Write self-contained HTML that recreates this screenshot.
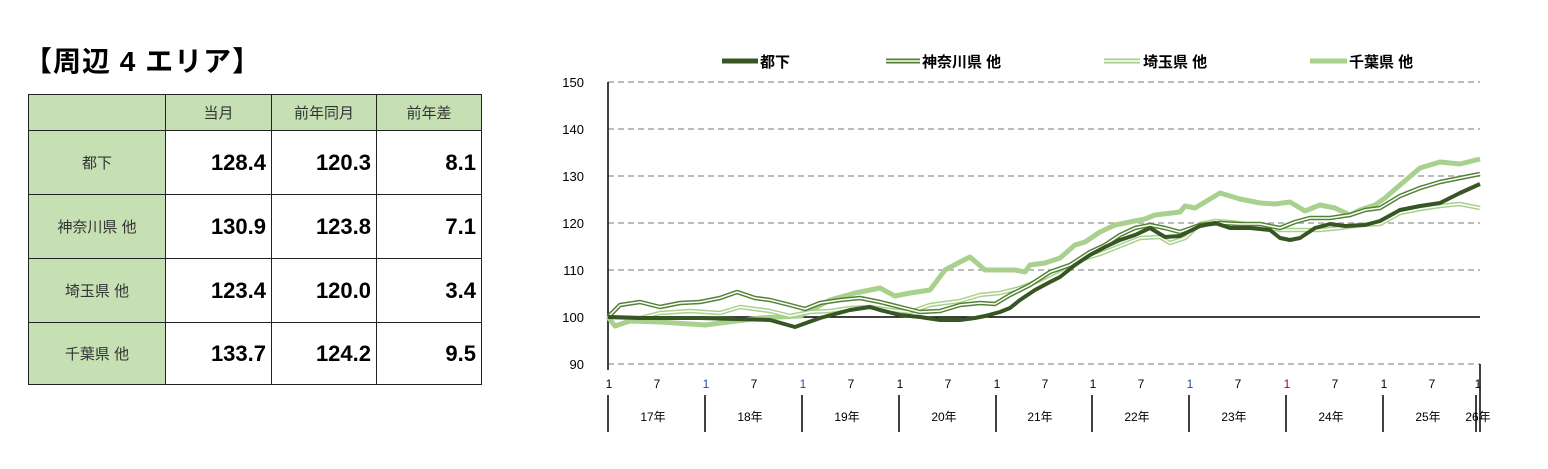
<!DOCTYPE html>
<html><head><meta charset="utf-8"><style>
body{margin:0;width:1548px;height:469px;background:#fff;overflow:hidden;font-family:"Liberation Sans","Noto Sans CJK JP",sans-serif;}
.t{position:absolute;left:24px;top:40px;font-size:28px;font-weight:bold;letter-spacing:1px}
table{position:absolute;left:28px;top:94px;border-collapse:collapse}
td{border:1.5px solid #222;padding:0;text-align:right}
td.h{background:#c6e0b4;text-align:center;font-size:15px;color:#333}
td.n{font-size:22px;font-weight:bold;padding-right:5px}
</style></head><body>
<div class="t">【周辺 4 エリア】</div>
<table>
<tr style="height:36px"><td class="h" style="width:136px"></td><td class="h" style="width:105px">当月</td><td class="h" style="width:104px">前年同月</td><td class="h" style="width:104px">前年差</td></tr>
<tr style="height:64px"><td class="h">都下</td><td class="n">128.4</td><td class="n">120.3</td><td class="n">8.1</td></tr>
<tr style="height:64px"><td class="h">神奈川県 他</td><td class="n">130.9</td><td class="n">123.8</td><td class="n">7.1</td></tr>
<tr style="height:64px"><td class="h">埼玉県 他</td><td class="n">123.4</td><td class="n">120.0</td><td class="n">3.4</td></tr>
<tr style="height:62px"><td class="h">千葉県 他</td><td class="n">133.7</td><td class="n">124.2</td><td class="n">9.5</td></tr>
</table>
<svg width="1548" height="469" style="position:absolute;left:0;top:0" font-family="Liberation Sans, Noto Sans CJK JP, sans-serif">
<g stroke="#a6a6a6" stroke-width="1.5" stroke-dasharray="6,4">
<line x1="608" y1="82" x2="1480" y2="82"/><line x1="608" y1="129" x2="1480" y2="129"/><line x1="608" y1="176" x2="1480" y2="176"/><line x1="608" y1="223" x2="1480" y2="223"/><line x1="608" y1="270" x2="1480" y2="270"/><line x1="608" y1="364" x2="1480" y2="364"/>
</g>
<line x1="608" y1="317" x2="1480" y2="317" stroke="#000" stroke-width="1.5"/>
<line x1="608" y1="82" x2="608" y2="370" stroke="#000" stroke-width="1.5"/>
<g font-size="13" text-anchor="end" fill="#000">
<text x="584" y="87">150</text><text x="584" y="134">140</text><text x="584" y="181">130</text><text x="584" y="228">120</text><text x="584" y="275">110</text><text x="584" y="322">100</text><text x="584" y="369">90</text>
</g>
<g fill="none" stroke-linejoin="round">
<polyline stroke="#a9d18e" stroke-width="5" points="608,317 615,326 630,321 660,322 705,325 760,318 800,316 830,300 855,293 870,290 880,288 895,296 910,293 930,290 945,270 960,262 970,257 985,270 1000,270 1015,270 1025,272 1030,265 1045,263 1060,258 1075,245 1085,242 1100,232 1115,225 1130,222 1145,219 1155,215 1180,212 1185,206 1195,208 1220,193 1240,199 1260,203 1275,204 1290,202 1305,211 1320,205 1335,208 1350,215 1360,210 1375,205 1385,198 1400,185 1420,168 1440,162 1460,164 1480,159"/>
<polyline stroke="#a9d18e" stroke-width="4.5" points="608,317 640,318 660,313 690,311 720,313 740,307 770,311 790,316 810,312 830,311 850,308 870,307 890,310 910,312 930,305 960,301 980,295 1000,293 1020,288 1040,280 1060,270 1080,260 1100,254 1120,246 1140,238 1160,237 1170,243 1185,238 1200,224 1215,221 1230,222 1260,226 1280,230 1300,230 1320,230 1340,228 1360,225 1380,224 1400,213 1420,209 1440,206 1460,204 1480,208"/>
<polyline stroke="#fff" stroke-width="1.5" points="608,317 640,318 660,313 690,311 720,313 740,307 770,311 790,316 810,312 830,311 850,308 870,307 890,310 910,312 930,305 960,301 980,295 1000,293 1020,288 1040,280 1060,270 1080,260 1100,254 1120,246 1140,238 1160,237 1170,243 1185,238 1200,224 1215,221 1230,222 1260,226 1280,230 1300,230 1320,230 1340,228 1360,225 1380,224 1400,213 1420,209 1440,206 1460,204 1480,208"/>
<polyline stroke="#548235" stroke-width="4.5" points="608,317 620,305 640,302 660,307 680,303 700,302 720,298 737,292 755,298 770,300 790,305 805,309 820,303 840,300 860,298 880,302 900,307 920,312 940,311 960,305 980,303 995,304 1010,295 1030,285 1050,272 1070,265 1090,252 1105,245 1120,235 1135,228 1150,225 1165,228 1180,232 1200,225 1220,223 1240,224 1260,224 1280,228 1295,222 1310,218 1330,218 1350,215 1365,210 1380,208 1400,196 1420,188 1440,182 1460,178 1480,174"/>
<polyline stroke="#fff" stroke-width="1.5" points="608,317 620,305 640,302 660,307 680,303 700,302 720,298 737,292 755,298 770,300 790,305 805,309 820,303 840,300 860,298 880,302 900,307 920,312 940,311 960,305 980,303 995,304 1010,295 1030,285 1050,272 1070,265 1090,252 1105,245 1120,235 1135,228 1150,225 1165,228 1180,232 1200,225 1220,223 1240,224 1260,224 1280,228 1295,222 1310,218 1330,218 1350,215 1365,210 1380,208 1400,196 1420,188 1440,182 1460,178 1480,174"/>
<polyline stroke="#375623" stroke-width="4" points="608,317 640,318 700,318 770,320 795,327 820,318 850,310 870,307 880,310 900,315 920,317 940,320 960,320 975,318 985,316 1000,312 1010,308 1020,300 1035,290 1050,282 1060,277 1075,265 1090,255 1105,247 1120,240 1135,235 1150,228 1165,237 1180,236 1200,226 1215,223 1230,228 1250,228 1270,230 1280,238 1290,240 1300,238 1315,228 1330,224 1345,226 1365,225 1380,221 1400,210 1420,206 1440,203 1460,193 1480,184"/>
</g>
<line x1="722" y1="61" x2="758" y2="61" stroke="#375623" stroke-width="5"/>
<text x="760" y="67" font-size="15" font-weight="bold">都下</text>
<line x1="886" y1="61" x2="920" y2="61" stroke="#548235" stroke-width="5"/><line x1="886" y1="61" x2="920" y2="61" stroke="#fff" stroke-width="1.5"/>
<text x="922" y="67" font-size="15" font-weight="bold">神奈川県 他</text>
<line x1="1104" y1="61" x2="1140" y2="61" stroke="#a9d18e" stroke-width="5"/><line x1="1104" y1="61" x2="1140" y2="61" stroke="#fff" stroke-width="1.5"/>
<text x="1143" y="67" font-size="15" font-weight="bold">埼玉県 他</text>
<line x1="1310" y1="61" x2="1347" y2="61" stroke="#a9d18e" stroke-width="5"/>
<text x="1349" y="67" font-size="15" font-weight="bold">千葉県 他</text>
<g stroke="#000" stroke-width="1.5">
<line x1="608" y1="395" x2="608" y2="432"/><line x1="705" y1="395" x2="705" y2="432"/><line x1="802" y1="395" x2="802" y2="432"/><line x1="899" y1="395" x2="899" y2="432"/><line x1="996" y1="395" x2="996" y2="432"/><line x1="1092" y1="395" x2="1092" y2="432"/><line x1="1189" y1="395" x2="1189" y2="432"/><line x1="1286" y1="395" x2="1286" y2="432"/><line x1="1383" y1="395" x2="1383" y2="432"/><line x1="1476" y1="395" x2="1476" y2="432"/><line x1="1480" y1="364" x2="1480" y2="432"/>
</g>
<g font-size="12" text-anchor="middle">
<text x="609" y="388">1</text><text x="657" y="388">7</text>
<text x="706" y="388" fill="#1f4e9e">1</text><text x="754" y="388">7</text>
<text x="803" y="388" fill="#1f4e9e">1</text><text x="851" y="388">7</text>
<text x="900" y="388">1</text><text x="948" y="388">7</text>
<text x="997" y="388">1</text><text x="1045" y="388">7</text>
<text x="1093" y="388">1</text><text x="1141" y="388">7</text>
<text x="1190" y="388" fill="#1f4e9e">1</text><text x="1238" y="388">7</text>
<text x="1287" y="388" fill="#c00000">1</text><text x="1335" y="388">7</text>
<text x="1384" y="388">1</text><text x="1432" y="388">7</text>
<text x="1478" y="388">1</text>
<text x="653" y="421">17年</text><text x="750" y="421">18年</text><text x="847" y="421">19年</text><text x="944" y="421">20年</text><text x="1040" y="421">21年</text><text x="1137" y="421">22年</text><text x="1234" y="421">23年</text><text x="1331" y="421">24年</text><text x="1428" y="421">25年</text><text x="1478" y="421">26年</text>
</g>
</svg>
</body></html>
